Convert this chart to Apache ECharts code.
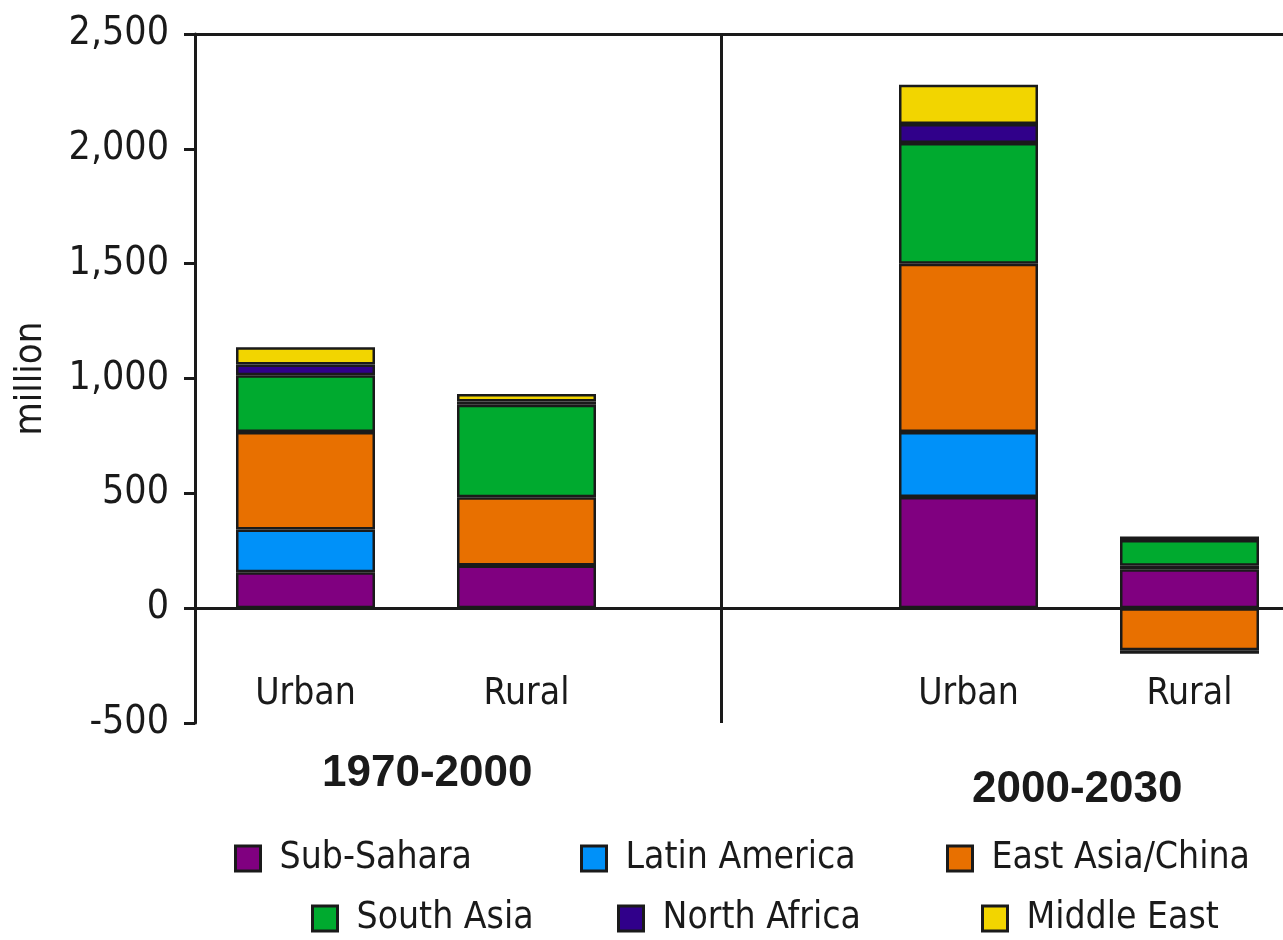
<!DOCTYPE html>
<html>
<head>
<meta charset="utf-8">
<script src="https://cdn.jsdelivr.net/npm/echarts@6/dist/echarts.min.js"></script>
<style>
  html, body { margin: 0; padding: 0; background: #fff; }
  #chart { width: 1283px; height: 940px; }
</style>
</head>
<body>
<div id="chart"></div>
<script>
// categories: 1970-2000 urban/rural, gap, 2000-2030 urban/rural
const categories = ['Urban', 'Rural', '', 'Urban', 'Rural']
const periods = ['1970-2000', '2000-2030']
const regions = ['Sub-Sahara', 'Latin America', 'East Asia/China', 'South Asia', 'North Africa', 'Middle East']

// million
const subSahara = [156, 186, null, 484, 169]
const latinAmerica = [187, 0, null, 283, 16]
const eastAsia = [424, 297, null, 733, -183]
const southAsia = [247, 403, null, 525, 112]
const northAfrica = [47, 14, null, 83, 15]
const middleEast = [75, 33, null, 171, -16]

const colors = ['#800080', '#0091f9', '#e87000', '#00aa2f', '#30008a', '#f2d500']
const ink = '#1a1a1a'
const font = "'DejaVu Sans Condensed', 'Liberation Sans Narrow', sans-serif"
const boldFont = "'Liberation Sans', Arial, sans-serif"

const seriesValues = [subSahara, latinAmerica, eastAsia, southAsia, northAfrica, middleEast]

const chart = echarts.init(document.getElementById('chart'))

const series = regions.map((name, i) => ({
  name: name,
  type: 'bar',
  stack: 'total',
  barWidth: 139,
  data: seriesValues[i],
  itemStyle: {
    color: colors[i],
    borderColor: ink,
    borderWidth: 2.5
  }
}))

// zero line + divider between the two periods
series.push({
  type: 'line',
  xAxisIndex: 1,
  data: [[0, 0]],
  showSymbol: false,
  lineStyle: { opacity: 0 },
  silent: true,
  markLine: {
    silent: true,
    symbol: ['none', 'none'],
    label: { show: false },
    lineStyle: { color: ink, width: 3, type: 'solid' },
    data: [{ yAxis: 0 }, { xAxis: 2.382 }]
  }
})

// legend: two rows, one legend per item
const legendSpots = [
  [234, 840], [580, 840], [946, 840],
  [311, 900], [617, 900], [981, 900]
]
const legend = regions.map((name, i) => ({
  data: [name],
  left: legendSpots[i][0],
  top: legendSpots[i][1],
  padding: 0,
  selectedMode: false,
  icon: 'rect',
  itemWidth: 25,
  itemHeight: 25,
  itemStyle: { borderColor: ink, borderWidth: 3 },
  textStyle: {
    fontFamily: font,
    fontSize: 37,
    color: ink,
    padding: [0, 0, 0, 14]
  }
}))

const option = {
  animation: false,
  backgroundColor: '#fff',
  title: [
    {
      text: periods[0], left: 322, top: 752, padding: 0,
      textStyle: { fontFamily: boldFont, fontWeight: 'bold', fontSize: 44, color: ink }
    },
    {
      text: periods[1], left: 972, top: 768, padding: 0,
      textStyle: { fontFamily: boldFont, fontWeight: 'bold', fontSize: 44, color: ink }
    }
  ],
  legend: legend,
  grid: {
    left: 195,
    right: -17,
    top: 34,
    bottom: 217,
    outerBoundsMode: 'none',
    containLabel: false
  },
  xAxis: [
    {
      type: 'category',
      data: categories,
      position: 'bottom',
      axisLine: { lineStyle: { color: ink, width: 3 } },
      axisTick: { show: false },
      axisLabel: {
        inside: true,
        margin: 10,
        fontFamily: font,
        fontSize: 37,
        color: ink,
        interval: 0
      }
    },
    {
      type: 'value',
      position: 'top',
      min: 0,
      max: 5,
      axisLine: { show: true, lineStyle: { color: ink, width: 3 } },
      axisTick: { show: false },
      axisLabel: { show: false },
      splitLine: { show: false }
    }
  ],
  yAxis: {
    type: 'value',
    min: -500,
    max: 2500,
    interval: 500,
    name: 'million',
    nameLocation: 'middle',
    nameGap: 145,
    nameTextStyle: { fontFamily: font, fontSize: 38, color: ink },
    axisLine: { show: true, lineStyle: { color: ink, width: 3 } },
    axisTick: { show: true, length: 11, lineStyle: { color: ink, width: 3 } },
    axisLabel: { margin: 26, fontFamily: font, fontSize: 39, color: ink },
    splitLine: { show: false }
  },
  series: series
}

chart.setOption(option)
</script>
</body>
</html>
